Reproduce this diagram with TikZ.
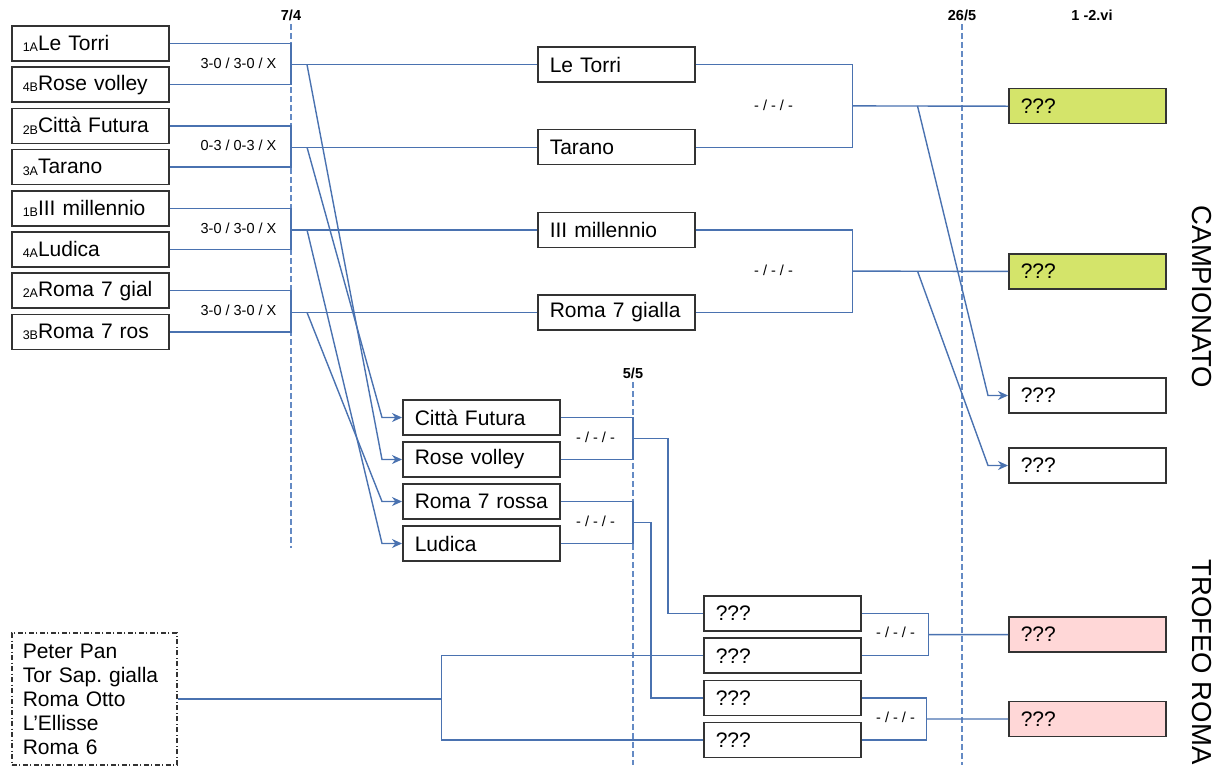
\documentclass[tikz,border=0pt]{standalone}
\usepackage{fontspec}
\setmainfont{Liberation Sans}
\usetikzlibrary{arrows.meta, calc}
\definecolor{linkBlue}{RGB}{74,114,176}
\definecolor{dateBlue}{RGB}{100,138,196}
\definecolor{boxGray}{RGB}{51,51,51}
\definecolor{winnerGreen}{RGB}{212,228,106}
\definecolor{trophyPink}{RGB}{255,215,215}
\newcommand{\teamFont}[0]{\fontsize{21}{24}\selectfont}
\newcommand{\scoreFont}[0]{\fontsize{14.5}{16}\selectfont}
\newcommand{\seed}[1]{\raisebox{-1.5pt}{\fontsize{12.5}{13}\selectfont #1}}
\newcommand{\noScore}[0]{- / - / -}
\frenchspacing

\begin{document}
\begin{tikzpicture}[x=1pt, y=-1pt]
  \tikzset{team/.style={draw=boxGray, fill=white, line width=1.5pt, anchor=west, font=\teamFont,
      text width=139pt, inner xsep=9pt, inner ysep=0pt, minimum height=35pt, align=left},
    link/.style={draw=linkBlue, line width=1.4pt},
    dateline/.style={draw=dateBlue, line width=1.3pt, dash pattern=on 6pt off 3pt},
    score/.style={font=\scoreFont},
    date/.style={font=\scoreFont\bfseries},
    into/.style={-{Stealth[length=10pt, width=9pt]}}}
  \useasboundingbox (0,0) rectangle (1228,769);
  % date lines
  \node[date] (d-7-4) at (291,15) {7/4};
  \node[date] (d-26-5) at (962,15) {26/5};
  \node[date] (d-5-5) at (633,373) {5/5};
  \node[date] (d-1-2) at (1092,15) {1 -2.vi};
  \coordinate (d-7-4-end) at (291,548);
  \coordinate (d-26-5-end) at (962,765);
  \coordinate (d-5-5-end) at (633,765);
  \draw[dateline] (d-7-4.south) -- (d-7-4-end);
  \draw[dateline] (d-26-5.south) -- (d-26-5-end);
  \draw[dateline] (d-5-5.south) -- (d-5-5-end);
  % first round
  \foreach \team/\seedNo [count=\i] in {Le Torri/1A, Rose volley/4B, Città Futura/2B, Tarano/3A,
      III millennio/1B, Ludica/4A, Roma 7 gial/2A, Roma 7 ros/3B}
    \node[team] (Q-\i) at (11, {43.5+41.2*(\i-1)}) {\hspace*{2pt}\seed{\seedNo}\team};
  \foreach \team [count=\i] in {Le Torri, Tarano, III millennio, Roma 7 gialla}
    \node[team] (S-\i) at (537, {64.6+82.6*(\i-1)}) {\hspace*{3pt}\team};
  \foreach \team [count=\i] in {Città Futura, Rose volley, Roma 7 rossa, Ludica}
    \node[team] (C-\i) at (402, {417.5+42*(\i-1)}) {\hspace*{3pt}\team};
  \foreach \k in {1,...,4} {
    \pgfmathtruncatemacro{\a}{2*\k-1}
    \pgfmathtruncatemacro{\b}{2*\k}
    \draw[link] (Q-\a.east) -- (Q-\a.east -| d-7-4) -- (Q-\b.east -| d-7-4) -- (Q-\b.east);
    \draw[link] (S-\k.west -| d-7-4) -- (S-\k.west);
    \coordinate (J-\k) at ($(S-\k.west -| d-7-4) + (16,0)$);
  }
  \node[score] (res-1) at ($(Q-1.east)!0.5!(Q-2.east) + (69,-1)$) {3-0 / 3-0 / X};
  \node[score] (res-2) at ($(Q-3.east)!0.5!(Q-4.east) + (69,-1)$) {0-3 / 0-3 / X};
  \node[score] (res-3) at ($(Q-5.east)!0.5!(Q-6.east) + (69,-1)$) {3-0 / 3-0 / X};
  \node[score] (res-4) at ($(Q-7.east)!0.5!(Q-8.east) + (69,-1)$) {3-0 / 3-0 / X};
  \foreach \k/\c in {1/2, 2/1, 3/4, 4/3}
    \draw[link, into] (J-\k) -- ($(C-\c.west) + (-20,0)$) -- (C-\c.west);
  % campionato
  \node[team, fill=winnerGreen] (F-1) at (1008, 106.2) {\hspace*{3pt}???};
  \node[team, fill=winnerGreen] (F-2) at (1008, 271.4) {\hspace*{3pt}???};
  \node[team] (F-3) at (1008, 395.5) {\hspace*{3pt}???};
  \node[team] (F-4) at (1008, 465.5) {\hspace*{3pt}???};
  \draw[link] (S-1.east) -- ++(157,0) |- (S-2.east);
  \draw[link] (S-3.east) -- ++(157,0) |- (S-4.east);
  \draw[link] ($(S-1.east)!0.5!(S-2.east) + (157,0)$) -- (F-1.west);
  \draw[link] ($(S-3.east)!0.5!(S-4.east) + (157,0)$) -- (F-2.west);
  \coordinate (JF-1) at ($(S-1.east)!0.5!(S-2.east) + (222,0)$);
  \coordinate (JF-2) at ($(S-3.east)!0.5!(S-4.east) + (222,0)$);
  \draw[link, into] (JF-1) -- ($(F-3.west) + (-20,0)$) -- (F-3.west);
  \draw[link, into] (JF-2) -- ($(F-4.west) + (-20,0)$) -- (F-4.west);
  \node[score] (res-5) at ($(S-1.east)!0.5!(S-2.east) + (78,-1)$) {\noScore};
  \node[score] (res-6) at ($(S-3.east)!0.5!(S-4.east) + (78,-1)$) {\noScore};
  % trofeo
  \foreach \i in {1,...,4}
    \node[team] (T-\i) at (703, {613.5+42.2*(\i-1)}) {\hspace*{3pt}???};
  \node[team, fill=trophyPink] (TF-1) at (1008, 634.6) {\hspace*{3pt}???};
  \node[team, fill=trophyPink] (TF-2) at (1008, 719) {\hspace*{3pt}???};
  \draw[link] (C-1.east) -- (C-1.east -| d-5-5) -- (C-2.east -| d-5-5) -- (C-2.east);
  \draw[link] (C-3.east) -- (C-3.east -| d-5-5) -- (C-4.east -| d-5-5) -- (C-4.east);
  \coordinate (M-1) at ($(C-1.east -| d-5-5)!0.5!(C-2.east -| d-5-5)$);
  \coordinate (M-2) at ($(C-3.east -| d-5-5)!0.5!(C-4.east -| d-5-5)$);
  \draw[link] (M-1) -- ++(35,0) |- (T-1.west);
  \draw[link] (M-2) -- ++(18,0) |- (T-3.west);
  \node[score] (res-7) at ($(C-1.east)!0.5!(C-2.east) + (35,-1)$) {\noScore};
  \node[score] (res-8) at ($(C-3.east)!0.5!(C-4.east) + (35,-1)$) {\noScore};
  \draw[link] (T-1.east) -- ++(67,0) |- (T-2.east);
  \draw[link] (T-3.east) -- ++(65,0) |- (T-4.east);
  \draw[link] ($(T-1.east)!0.5!(T-2.east) + (67,0)$) -- (TF-1.west);
  \draw[link] ($(T-3.east)!0.5!(T-4.east) + (65,0)$) -- (TF-2.west);
  \node[score] (res-9) at ($(T-1.east)!0.5!(T-2.east) + (34,-2)$) {\noScore};
  \node[score] (res-10) at ($(T-3.east)!0.5!(T-4.east) + (34,-2)$) {\noScore};
  \node[team, dash pattern=on 5pt off 2.5pt on 1pt off 2.5pt, text width=143pt, inner xsep=11pt,
    minimum height=132pt, inner ysep=4pt] (rest) at (11,699)
    {Peter Pan\\Tor Sap. gialla\\Roma Otto\\L'Ellisse\\Roma 6};
  \draw[link] (rest.east) -- ++(264,0) |- (T-2.west);
  \draw[link] ($(rest.east) + (264,0)$) |- (T-4.west);
  % titles
  \node[rotate=-90, font=\fontsize{27.5}{30}\selectfont] (campionato) at (1202,297) {CAMPIONATO};
  \node[rotate=-90, font=\fontsize{27.5}{30}\selectfont] (trofeo) at (1202,662) {TROFEO ROMA};
\end{tikzpicture}
\end{document}
